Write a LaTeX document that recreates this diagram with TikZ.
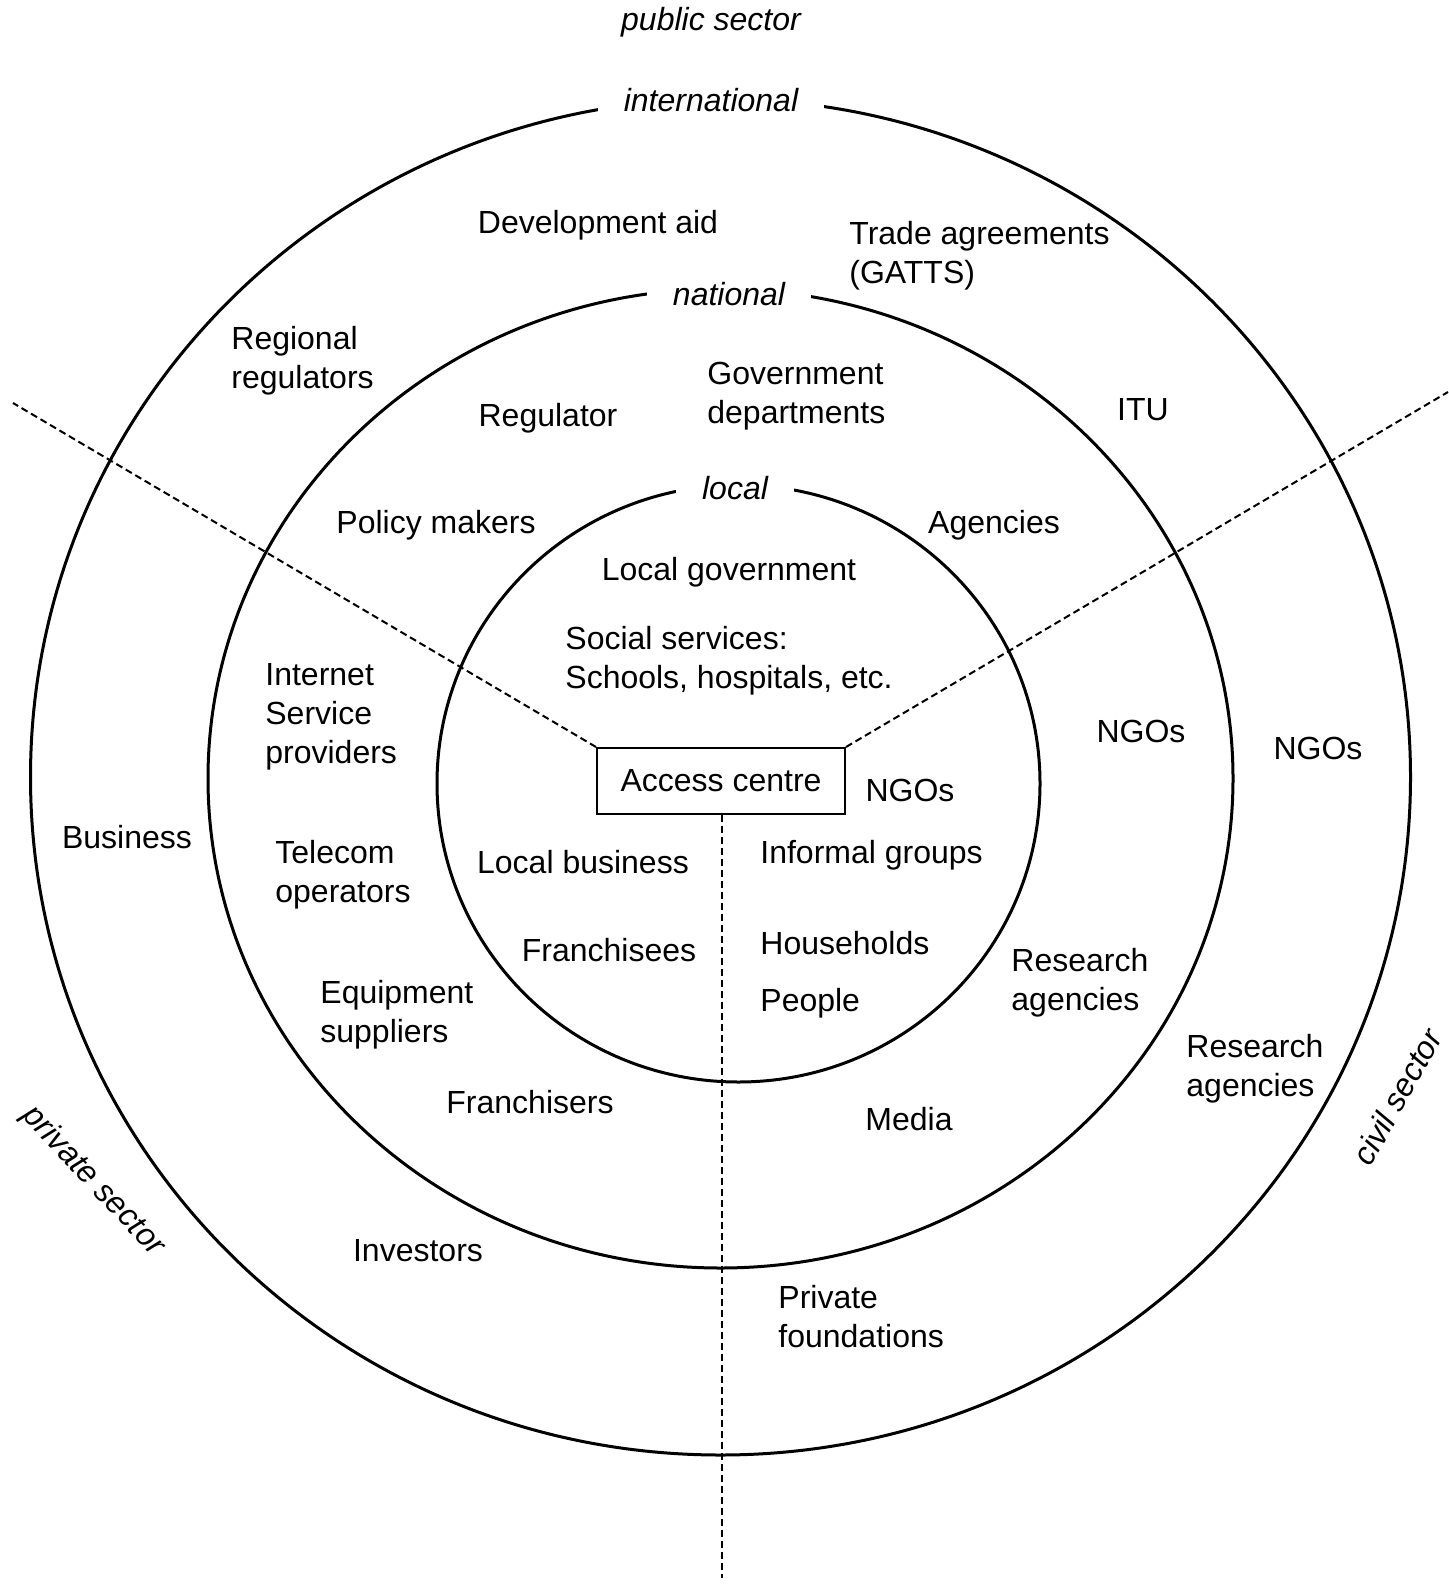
\documentclass[tikz,border=0pt]{standalone}
\usepackage{fontspec}
\setmainfont{Liberation Sans}
\begin{document}
\begin{tikzpicture}[x=0.5pt,y=-0.5pt,
  ring/.style={line width=1.5pt},
  sector/.style={dashed,dash pattern=on 3.5pt off 2pt,line width=1pt},
  lbl/.style={inner sep=0pt,yshift=-1.5pt,font=\fontsize{16}{19.5}\selectfont},
  llbl/.style={lbl,align=left,anchor=west},
  ringlbl/.style={fill=white,inner xsep=13pt,inner ysep=4pt,font=\fontsize{16}{19.5}\selectfont\itshape},
  seclbl/.style={inner sep=0pt,font=\fontsize{16}{19.5}\selectfont\itshape},
  acbox/.style={draw,line width=1pt,fill=white,minimum width=124pt,minimum height=33pt,inner sep=0pt,font=\fontsize{16}{19.5}\selectfont}]
\useasboundingbox (0,0) rectangle (1448,1588);
% rings
\draw[ring] (720.5,777) ellipse [x radius=690, y radius=678];
\draw[ring] (720.5,778.5) ellipse [x radius=512.5, y radius=489.5];
\draw[ring] (738.5,783.5) ellipse [x radius=301.5, y radius=298.5];
% access centre and sector lines
\node[acbox] (ac) at (721,781) {Access centre};
\coordinate (lend) at (13,403);
\coordinate (rend) at (1448,392);
\coordinate (bend) at (722,1578);
\draw[sector] (ac.north west) -- (lend);
\draw[sector] (ac.north east) -- (rend);
\draw[sector] (ac.south -| bend) -- (bend);
% ring labels
\node[ringlbl] (intl) at (711,100) {international};
\node[ringlbl] (natl) at (729,294) {national};
\node[ringlbl] (locl) at (735,488) {local};
% sector labels
\node[seclbl] (pubs) at (711,22) {public sector};
\node[seclbl,rotate=-47] (privs) at (93,1181) {private sector};
\node[seclbl,rotate=61] (civs) at (1397,1097) {civil sector};
% international ring
\node[lbl] (devaid) at (598,222) {Development aid};
\node[llbl] (trade) at (849,253) {Trade agreements\\(GATTS)};
\node[llbl] (regreg) at (231,358) {Regional\\regulators};
\node[lbl] (itu) at (1143,407) {ITU};
\node[lbl] (bus) at (127,834) {Business};
\node[lbl] (ngo3) at (1318,745) {NGOs};
\node[llbl] (res3) at (1186,1066) {Research\\agencies};
\node[lbl] (inv) at (418,1248) {Investors};
\node[llbl] (pf) at (778,1314) {Private\\foundations};
% national ring
\node[lbl] (reg) at (548,415) {Regulator};
\node[llbl] (gov) at (707,393) {Government\\departments};
\node[lbl] (pol) at (436,522) {Policy makers};
\node[lbl] (agen) at (994,522) {Agencies};
\node[llbl] (isp) at (265,714) {Internet\\Service\\providers};
\node[lbl] (ngo2) at (1141,728) {NGOs};
\node[llbl] (tel) at (275,872) {Telecom\\operators};
\node[llbl] (res2) at (1011,980) {Research\\agencies};
\node[llbl] (equip) at (320,1012) {Equipment\\suppliers};
\node[lbl] (fran) at (530,1099) {Franchisers};
\node[lbl] (media) at (909,1116) {Media};
% local ring
\node[lbl] (lgov) at (729,569) {Local government};
\node[llbl] (soc) at (565,658) {Social services:\\Schools, hospitals, etc.};
\node[lbl] (ngo1) at (910,787) {NGOs};
\node[lbl] (lbus) at (583,859) {Local business};
\node[llbl] (inf) at (760,852) {Informal groups};
\node[lbl] (fees) at (609,947) {Franchisees};
\node[llbl] (hh) at (760,940) {Households};
\node[llbl] (ppl) at (760,1000) {People};
\end{tikzpicture}
\end{document}
